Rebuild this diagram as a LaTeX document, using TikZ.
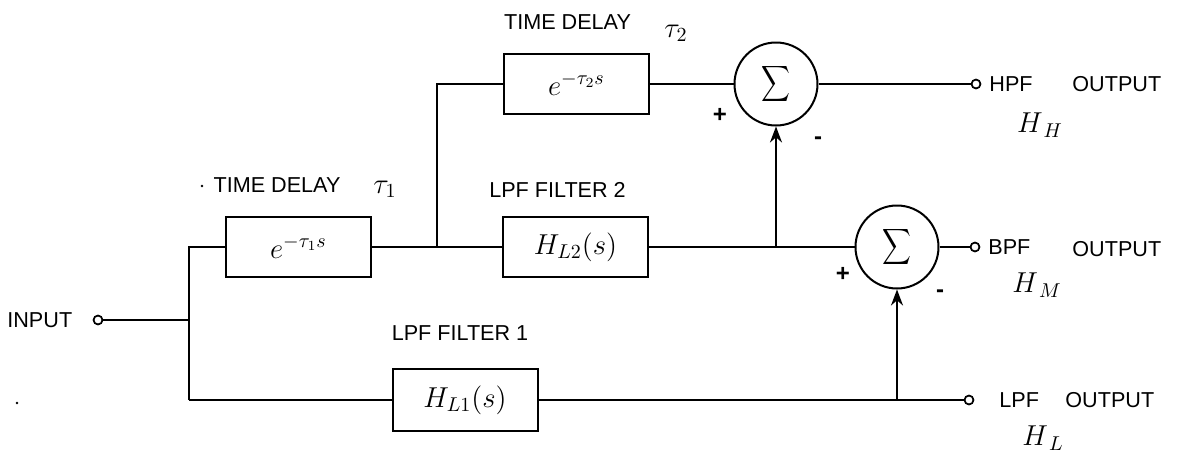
\documentclass[tikz,border=0pt]{standalone}
\usepackage{fontspec}
\setmainfont{Liberation Sans}
\usetikzlibrary{arrows.meta}
\begin{document}
\begin{tikzpicture}[x=0.5pt,y=-0.5pt,
  wire/.style={line width=1pt},
  blockbox/.style={draw,line width=1pt,minimum width=72.5pt,minimum height=30pt,inner sep=0pt,font=\fontsize{14.5}{17}\selectfont},
  sumnode/.style={draw,circle,line width=1pt,minimum size=41.5pt,inner sep=0pt,font=\fontsize{15}{18}\selectfont},
  term/.style={draw,circle,line width=0.8pt,minimum size=4.4pt,inner sep=0pt,fill=white},
  lbl/.style={font=\fontsize{10.8}{12}\selectfont,inner sep=0pt},
  sgn/.style={font=\fontsize{12}{14}\selectfont\bfseries,inner sep=0pt},
  mlbl/.style={font=\fontsize{14}{16}\selectfont,inner sep=0pt},
  arr/.style={wire,-{Stealth[length=8pt,width=6pt]}}]
\useasboundingbox (0,0) rectangle (1180,461);
\fill[white] (0,0) rectangle (1180,461);

% blocks
\node[blockbox] (d1) at (298.5,247) {$e^{-\tau_1 s}$};
\node[blockbox] (d2) at (576.5,84) {$e^{-\tau_2 s}$};
\node[blockbox] (l2) at (575.5,247) {$H_{L2}(s)$};
\node[blockbox,minimum height=31pt] (l1) at (465,400) {$H_{L1}(s)$};
\node[sumnode] (s1) at (776,84) {\scalebox{1}[1.25]{$\displaystyle\sum$}};
\node[sumnode] (s2) at (897,247) {\scalebox{1}[1.25]{$\displaystyle\sum$}};

% terminals
\node[term] (tin) at (98,320) {};
\node[term] (th) at (976,84) {};
\node[term] (tb) at (975,247) {};
\node[term] (tl) at (969,400) {};

% junctions
\coordinate (j1) at (189,320);
\coordinate (j1t) at (189,247);
\coordinate (j1b) at (189,400);
\coordinate (j2) at (437,247);
\coordinate (j2t) at (437,84);
\coordinate (b1) at (776,247);
\coordinate (b2) at (897,400);

% wires
\draw[wire] (tin) -- (j1);
\draw[wire] (j1b) -- (j1t) -- (d1.west);
\draw[wire] (j1b) -- (l1.west);
\draw[wire] (d1.east) -- (j2) -- (l2.west);
\draw[wire] (j2) -- (j2t) -- (d2.west);
\draw[wire] (d2.east) -- (s1.west);
\draw[wire] (l2.east) -- (s2.west);
\draw[wire] (s1.east) -- (th);
\draw[wire] (s2.east) -- (tb);
\draw[wire] (l1.east) -- (tl);
\draw[arr] (b1) -- (s1.south);
\draw[arr] (b2) -- (s2.south);
\node[term] at (tin) {};
\node[term] at (th) {};
\node[term] at (tb) {};
\node[term] at (tl) {};

% labels
\node[lbl,anchor=west] (lin) at (7,320) {INPUT};
\node[lbl] (lt2) at (567.5,22) {TIME DELAY};
\node[mlbl] (tau2) at (676,33) {$\tau_2$};
\node[lbl] (lt1) at (277,185) {TIME DELAY};
\fill (202,186) circle (0.7pt);
\node[mlbl] (tau1) at (385,189) {$\tau_1$};
\node[lbl] (lf2) at (557.5,190) {LPF FILTER 2};
\node[lbl] (lf1) at (460,333) {LPF FILTER 1};
\node[sgn] at (720,115) {+};
\node[sgn] at (818,141) {-};
\node[sgn] at (843,274) {+};
\node[sgn] at (940,294) {-};
\node[lbl,anchor=west] (hpf) at (989,84) {HPF};
\node[lbl,anchor=west] (ho) at (1072,84) {OUTPUT};
\node[lbl,anchor=west] (bpf) at (988,247) {BPF};
\node[lbl,anchor=west] (bo) at (1072,249) {OUTPUT};
\node[lbl,anchor=west] (lpf) at (999,400) {LPF};
\node[lbl,anchor=west] (lo) at (1065,400) {OUTPUT};
\node[mlbl] (hh) at (1040,125) {$H_{\,H}$};
\node[mlbl] (hm) at (1037,285) {$H_{\,M}$};
\node[mlbl] (hl) at (1043,438) {$H_{\,L}$};
\fill (17,403) circle (0.7pt);
\end{tikzpicture}
\end{document}
